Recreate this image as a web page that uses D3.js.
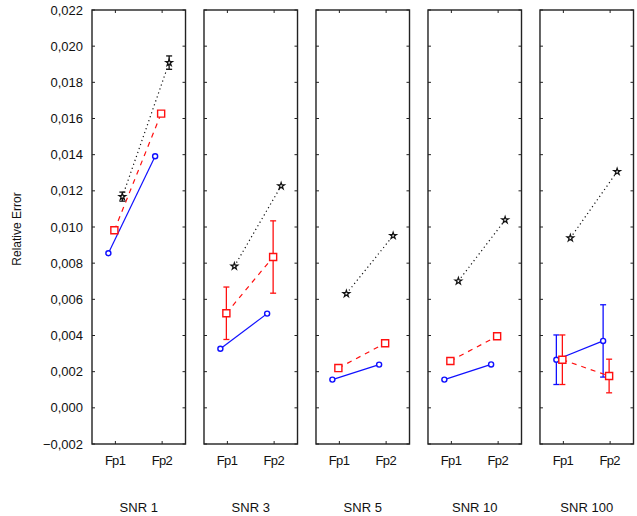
<!DOCTYPE html>
<html>
<head>
<meta charset="utf-8">
<script src="https://cdn.jsdelivr.net/npm/d3@7"></script>
<style>
  body { margin: 0; background: #fff; }
  text { font-family: "Liberation Sans", Arial, sans-serif; font-size: 13px; fill: #111; }
</style>
</head>
<body>
<div id="chart"></div>
<script>
var w = 637, h = 516;

// data
var panels = ["SNR 1", "SNR 3", "SNR 5", "SNR 10", "SNR 100"];
var channels = ["Fp1", "Fp2"];
var yTicks = [-0.002, 0, 0.002, 0.004, 0.006, 0.008, 0.010, 0.012, 0.014, 0.016, 0.018, 0.020, 0.022];

var blueMean  = [[0.00855, 0.01391], [0.00327, 0.00521], [0.00156, 0.00239], [0.00156, 0.00240], [0.00266, 0.00370]];
var blueErr   = [[0, 0], [0, 0], [0, 0], [0, 0], [0.00137, 0.00200]];
var redMean   = [[0.00982, 0.01627], [0.00523, 0.00834], [0.00220, 0.00357], [0.00259, 0.00396], [0.00266, 0.00176]];
var redErr    = [[0, 0], [0.00145, 0.00200], [0, 0], [0, 0], [0.00137, 0.00093]];
var blackMean = [[0.01168, 0.01909], [0.00783, 0.01227], [0.00631, 0.00952], [0.00701, 0.01039], [0.00939, 0.01306]];
var blackErr  = [[0.00025, 0.00037], [0, 0], [0, 0], [0, 0], [0, 0]];

var series = [
  {mean: blueMean, err: blueErr, color: "#1010ff", dash: null, shift: -7, sym: "circle"},
  {mean: redMean, err: redErr, color: "#ff1010", dash: "5,5", shift: -1, sym: "square"},
  {mean: blackMean, err: blackErr, color: "#111", dash: "1.2,3", shift: 7, sym: "star"}
];

var svg = d3.select("#chart").append("svg")
  .attr("width", w)
  .attr("height", h);

var yTop = 10, yBot = 444;

var y = d3.scaleLinear().domain([-0.002, 0.022]).range([yBot, yTop]);
var px = d3.scaleBand().domain(panels).range([92, 633.5]).paddingInner(0.165).paddingOuter(0);
var cx = d3.scalePoint().domain(channels).range([0, px.bandwidth()]).padding(0.5);

var fmt = d3.formatLocale({decimal: ",", thousands: ".", grouping: [3], currency: ["", ""]}).format(".3f");

// y label
svg.append("text")
  .attr("transform", "translate(21," + (y(0.01) + 2) + ") rotate(-90)")
  .attr("text-anchor", "middle")
  .style("font-size", "12px")
  .text("Relative Error");

// y tick labels (left of first panel)
svg.selectAll(".ylab")
  .data(yTicks)
  .enter().append("text")
  .attr("class", "ylab")
  .attr("x", 83)
  .attr("y", function(d) { return y(d); })
  .attr("dy", "0.35em")
  .attr("text-anchor", "end")
  .text(function(d) { return fmt(d); });

panels.forEach(function(p, i) {
  var g = svg.append("g").attr("transform", "translate(" + px(p) + ",0)");
  var bw = px.bandwidth();

  // inner ticks left/right
  yTicks.forEach(function(t) {
    g.append("line").attr("x1", 0).attr("x2", 3).attr("y1", y(t)).attr("y2", y(t))
      .attr("stroke", "#222").attr("stroke-width", 1);
    g.append("line").attr("x1", bw - 3).attr("x2", bw).attr("y1", y(t)).attr("y2", y(t))
      .attr("stroke", "#222").attr("stroke-width", 1);
  });
  // inner ticks top/bottom
  channels.forEach(function(c) {
    g.append("line").attr("x1", cx(c)).attr("x2", cx(c)).attr("y1", yTop).attr("y2", yTop + 3)
      .attr("stroke", "#222");
    g.append("line").attr("x1", cx(c)).attr("x2", cx(c)).attr("y1", yBot - 3).attr("y2", yBot)
      .attr("stroke", "#222");
    g.append("text")
      .attr("x", cx(c))
      .attr("y", 465)
      .attr("text-anchor", "middle")
      .attr("textLength", 21)
      .text(c);
  });

  series.forEach(function(s) {
    var pts = channels.map(function(c, j) {
      return {x: cx(c) + s.shift, v: s.mean[i][j], e: s.err[i][j]};
    });
    var line = d3.line().x(function(d) { return d.x; }).y(function(d) { return y(d.v); });
    g.append("path")
      .attr("d", line(pts))
      .attr("fill", "none")
      .attr("stroke", s.color)
      .attr("stroke-width", 1.2)
      .attr("stroke-dasharray", s.dash);

    pts.forEach(function(d) {
      if (d.e > 0) {
        g.append("line").attr("x1", d.x).attr("x2", d.x)
          .attr("y1", y(d.v - d.e)).attr("y2", y(d.v + d.e))
          .attr("stroke", s.color).attr("stroke-width", 1.3);
        [d.v - d.e, d.v + d.e].forEach(function(v) {
          g.append("line").attr("x1", d.x - 3).attr("x2", d.x + 3)
            .attr("y1", y(v)).attr("y2", y(v))
            .attr("stroke", s.color).attr("stroke-width", 1.3);
        });
      }
      var sy = s.sym == "circle" ? d3.symbolCircle : s.sym == "square" ? d3.symbolSquare : d3.symbolStar;
      var size = s.sym == "circle" ? 20 : s.sym == "square" ? 50 : 14;
      g.append("path")
        .attr("d", d3.symbol().type(sy).size(size)())
        .attr("transform", "translate(" + d.x + "," + y(d.v) + ")")
        .attr("fill", "#fff")
        .attr("stroke", s.color)
        .attr("stroke-width", s.sym == "star" ? 1.2 : 1.4);
    });
  });

  // frame
  g.append("rect")
    .attr("x", 0).attr("y", yTop)
    .attr("width", bw).attr("height", yBot - yTop)
    .attr("fill", "none")
    .attr("stroke", "#222")
    .attr("stroke-width", 1.4);

  svg.append("text")
    .attr("x", px(p) + bw / 2)
    .attr("y", 512)
    .attr("text-anchor", "middle")
    .text(p);
});
</script>
</body>
</html>
